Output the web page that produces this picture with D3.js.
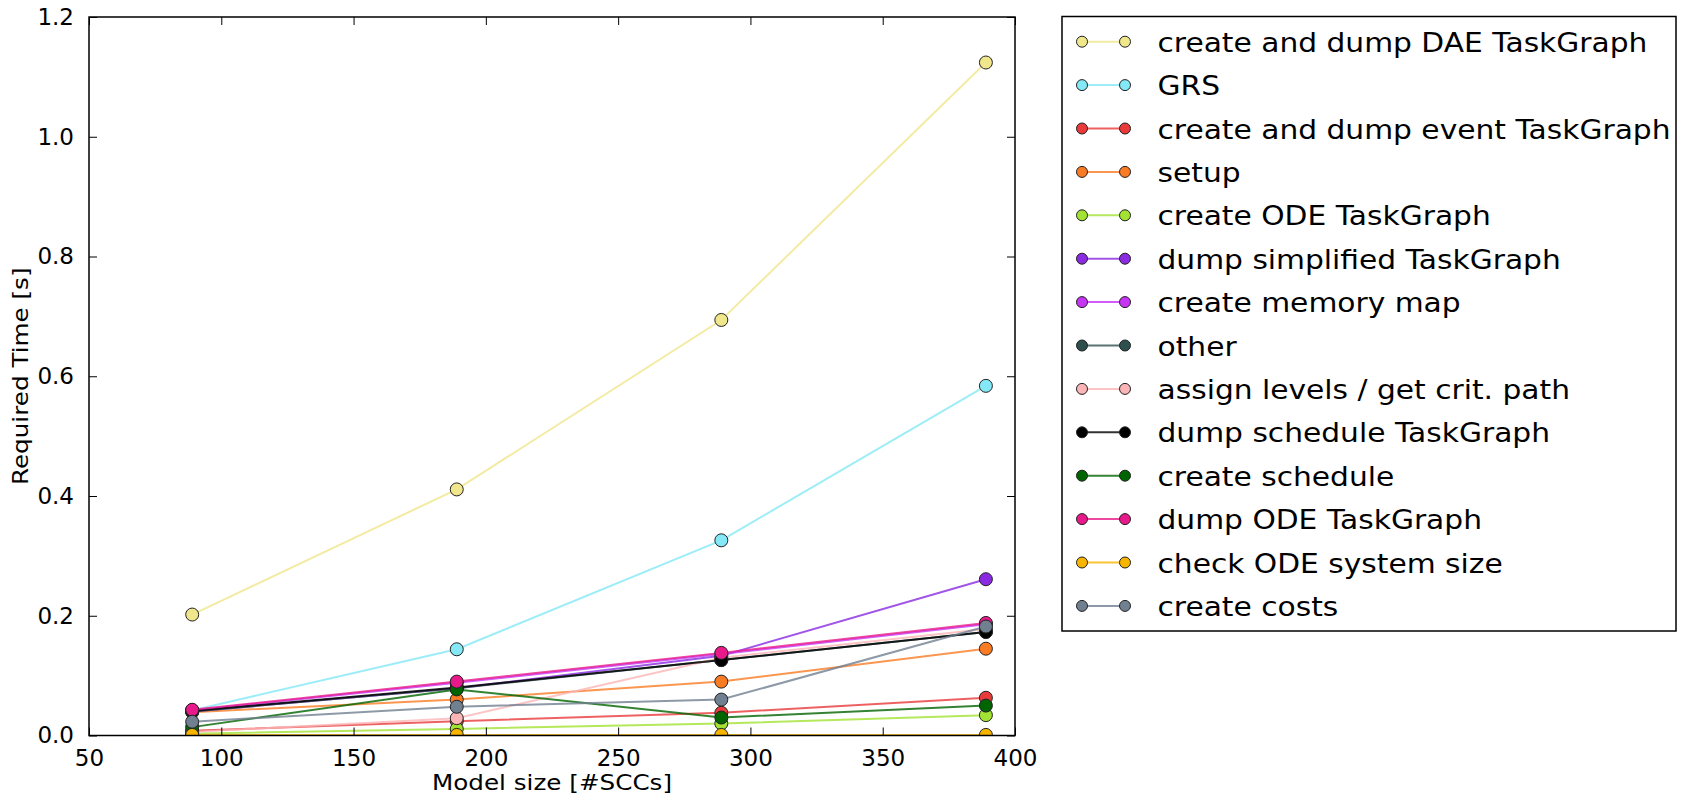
<!DOCTYPE html>
<html>
<head>
<meta charset="utf-8">
<script src="https://cdn.jsdelivr.net/npm/d3@7"></script>
<style>
  body { margin: 0; background: #fff; }
  text { font-family: "DejaVu Sans", sans-serif; fill: #000; }
</style>
</head>
<body>
<svg id="chart" width="1694" height="795"></svg>
<script>
// Model sizes (number of SCCs) at which the phases were timed
const modelSizes = [89, 189, 289, 389];

// Phase names, in plotting / legend order
const phaseNames = [
  "create and dump DAE TaskGraph",
  "GRS",
  "create and dump event TaskGraph",
  "setup",
  "create ODE TaskGraph",
  "dump simplified TaskGraph",
  "create memory map",
  "other",
  "assign levels / get crit. path",
  "dump schedule TaskGraph",
  "create schedule",
  "dump ODE TaskGraph",
  "check ODE system size",
  "create costs"
];

const phaseColors = [
  "#f0e68c", "#84e8f6", "#e8393b", "#f97c24", "#a2e232", "#8a2be2", "#c634f4",
  "#2f4f4f", "#fbb5b7", "#000000", "#006400", "#e8198b", "#f7b500", "#708090"
];

// Required time [s] per phase
const daeTaskGraph       = [0.202, 0.411, 0.694, 1.124];
const grs                = [0.042, 0.144, 0.326, 0.584];
const eventTaskGraph     = [0.008, 0.024, 0.038, 0.063];
const setup              = [0.039, 0.060, 0.090, 0.145];
const odeTaskGraph       = [0.003, 0.011, 0.020, 0.034];
const dumpSimplified     = [0.040, 0.079, 0.133, 0.261];
const memoryMap          = [0.042, 0.088, 0.136, 0.186];
const other              = [0.040, 0.079, 0.126, 0.173];
const assignLevels       = [0.006, 0.029, 0.130, 0.178];
const dumpSchedule       = [0.041, 0.080, 0.126, 0.173];
const createSchedule     = [0.014, 0.077, 0.030, 0.050];
const dumpOdeTaskGraph   = [0.043, 0.090, 0.138, 0.188];
const checkOdeSystemSize = [0.001, 0.001, 0.001, 0.001];
const createCosts        = [0.023, 0.048, 0.060, 0.182];

const phaseValues = [
  daeTaskGraph, grs, eventTaskGraph, setup, odeTaskGraph, dumpSimplified, memoryMap,
  other, assignLevels, dumpSchedule, createSchedule, dumpOdeTaskGraph, checkOdeSystemSize, createCosts
];

const xTicks = [50, 100, 150, 200, 250, 300, 350, 400];
const yTicks = [0.0, 0.2, 0.4, 0.6, 0.8, 1.0, 1.2];

const xLabel = "Model size [#SCCs]";
const yLabel = "Required Time [s]";

// ---- layout ----
const plot = { left: 89, top: 17, right: 1015, bottom: 735.5 };
const svg = d3.select("#chart");
svg.append("rect").attr("width", 1694).attr("height", 795).attr("fill", "#fff");

const x = d3.scaleLinear().domain([50, 400]).range([plot.left, plot.right]);
const y = d3.scaleLinear().domain([0, 1.2]).range([plot.bottom, plot.top]);

const series = phaseNames.map((name, i) => ({
  name, color: phaseColors[i],
  points: modelSizes.map((m, j) => ({ m, v: phaseValues[i][j] }))
}));

svg.append("defs").append("clipPath").attr("id", "plotClip")
  .append("rect")
  .attr("x", plot.left).attr("y", plot.top)
  .attr("width", plot.right - plot.left).attr("height", plot.bottom - plot.top);

const line = d3.line().x(d => x(d.m)).y(d => y(d.v));
const marks = svg.append("g").attr("clip-path", "url(#plotClip)");

series.forEach(s => {
  const g = marks.append("g");
  g.append("path").datum(s.points)
    .attr("d", line)
    .attr("fill", "none")
    .attr("stroke", s.color)
    .attr("stroke-opacity", 0.8)
    .attr("stroke-width", 2);
  g.selectAll("circle").data(s.points).join("circle")
    .attr("cx", d => x(d.m)).attr("cy", d => y(d.v))
    .attr("r", 6.5)
    .attr("fill", s.color)
    .attr("stroke", "#222")
    .attr("stroke-width", 1);
});

// ---- axes (inward ticks on all four sides) ----
const tickLen = 8;
const axisX = d3.axisBottom(x).tickValues(xTicks).tickSize(-tickLen).tickPadding(14).tickFormat(d3.format("d"));
const axisXTop = d3.axisTop(x).tickValues(xTicks).tickSize(-tickLen).tickFormat("");
const axisY = d3.axisLeft(y).tickValues(yTicks).tickSize(-tickLen).tickPadding(15).tickFormat(d3.format(".1f"));
const axisYRight = d3.axisRight(y).tickValues(yTicks).tickSize(-tickLen).tickFormat("");

function styleAxis(g) {
  g.select(".domain").remove();
  g.selectAll(".tick line").attr("stroke", "#000").attr("stroke-width", 1);
  g.selectAll(".tick text").attr("font-size", 23).attr("font-family", "DejaVu Sans").attr("fill", "#000");
}

svg.append("g").attr("transform", `translate(0,${plot.bottom})`).call(axisX).call(styleAxis);
svg.append("g").attr("transform", `translate(0,${plot.top})`).call(axisXTop).call(styleAxis);
svg.append("g").attr("transform", `translate(${plot.left},0)`).call(axisY).call(styleAxis);
svg.append("g").attr("transform", `translate(${plot.right},0)`).call(axisYRight).call(styleAxis);

svg.append("rect")
  .attr("x", plot.left).attr("y", plot.top)
  .attr("width", plot.right - plot.left).attr("height", plot.bottom - plot.top)
  .attr("fill", "none").attr("stroke", "#000").attr("stroke-width", 1.5);

// ---- axis titles ----
svg.append("text")
  .attr("transform", `translate(${(plot.left + plot.right) / 2},790) scale(1.12,1)`)
  .attr("text-anchor", "middle").attr("font-size", 22)
  .text(xLabel);

svg.append("text")
  .attr("transform", `translate(28,${(plot.top + plot.bottom) / 2}) rotate(-90) scale(1.12,1)`)
  .attr("text-anchor", "middle").attr("font-size", 22)
  .text(yLabel);

// ---- legend ----
const legend = { left: 1062, top: 16.5, right: 1676, bottom: 631, row0: 41.7, rowStep: 43.4 };
const lg = svg.append("g");
lg.append("rect")
  .attr("x", legend.left).attr("y", legend.top)
  .attr("width", legend.right - legend.left).attr("height", legend.bottom - legend.top)
  .attr("fill", "#fff").attr("stroke", "#000").attr("stroke-width", 1.5);

series.forEach((s, i) => {
  const cy = legend.row0 + i * legend.rowStep;
  const row = lg.append("g").attr("transform", `translate(0,${cy})`);
  row.append("line").attr("x1", 1082).attr("x2", 1125).attr("y1", 0).attr("y2", 0)
    .attr("stroke", s.color).attr("stroke-opacity", 0.8).attr("stroke-width", 2);
  [1082, 1125].forEach(cx => row.append("circle")
    .attr("cx", cx).attr("cy", 0).attr("r", 5.5)
    .attr("fill", s.color).attr("stroke", "#222").attr("stroke-width", 1));
  row.append("text")
    .attr("transform", `translate(1157.5,10) scale(1.1,1)`)
    .attr("font-size", 27)
    .text(s.name);
});
</script>
</body>
</html>
